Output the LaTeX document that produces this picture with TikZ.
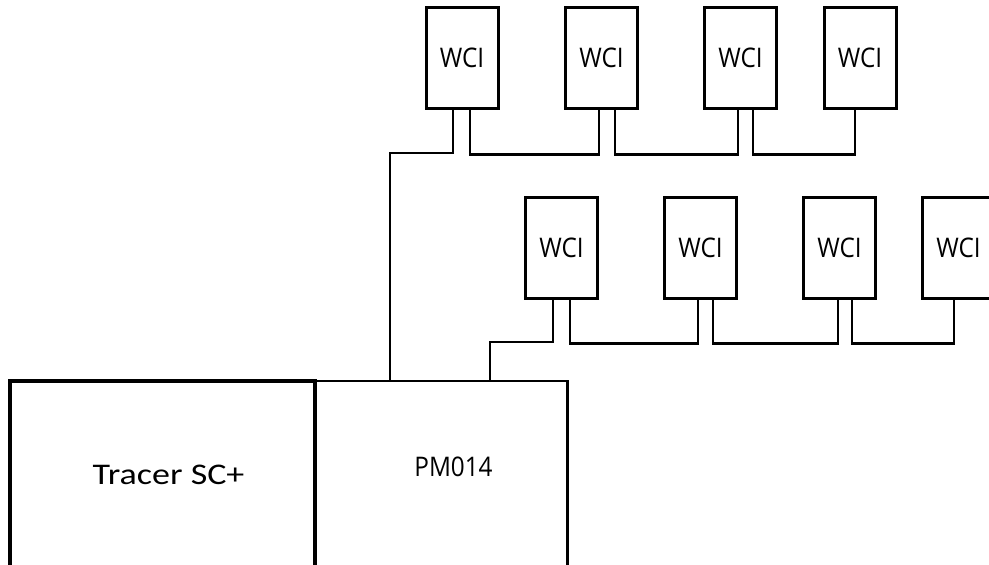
\documentclass[tikz,border=0pt]{standalone}
\usepackage{fontspec}
\setmainfont{Open Sans}
\newfontfamily\tracerfont{Carlito}

\begin{document}
\begin{tikzpicture}[x=1pt, y=-1pt,
    unitname/.style={font=\fontsize{27}{30}\selectfont},
    unit/.style={draw, line width=3pt, minimum width=72pt, minimum height=101pt, inner sep=0pt, unitname},
    wire/.style={line width=2.5pt}]
		      		\clip (0,0) rectangle (989,565);

		      		% bottom boxes
		      		\node[draw, line width=2.5pt, minimum width=252pt, minimum height=187pt] (pm) at (441.5,474.5) {};
		      		\node[draw, line width=3.7pt, minimum width=305.5pt, minimum height=187pt] (tracer) at (162.5,474.5) {};
		      		\node[font=\tracerfont\fontsize{30}{34}\selectfont] (tracerlabel) at (168.5,475) {\scalebox{1.2}[1]{Tracer SC+}};
		      		\node[unitname] (pmlabel) at (453.5,466.5) {\scalebox{0.9}[1]{PM014}};

		      		% top row
		      		\node[unit] (w1) at (462,57.5) {\scalebox{0.9}[1]{WCI}};
		      		\node[unit] (w2) at (601.5,57.5) {\scalebox{0.9}[1]{WCI}};
		      		\node[unit] (w3) at (740.5,57.5) {\scalebox{0.9}[1]{WCI}};
		      		\node[unit] (w4) at (860,57.5) {\scalebox{0.9}[1]{WCI}};

		      		% second row
		      		\node[unit] (v1) at (561.5,247.5) {\scalebox{0.9}[1]{WCI}};
		      		\node[unit] (v2) at (700.5,247.5) {\scalebox{0.9}[1]{WCI}};
		      		\node[unit] (v3) at (839.5,247.5) {\scalebox{0.9}[1]{WCI}};
		      		\node[unit] (v4) at (958.5,247.5) {\scalebox{0.9}[1]{WCI}};

		      		\coordinate (tapw) at (390,153);
		      		\coordinate (tapv) at (490,342);

		      		\draw[wire] ([xshift=-9pt]w1.south) |- (tapw) -- (tapw |- pm.north);
		      		\draw[wire] ([xshift=-8.5pt]v1.south) |- (tapv) -- (tapv |- pm.north);

		      		\foreach \a/\b/\sa/\sb in {w1/w2/8/-2.5, w2/w3/13.5/-2.5, w3/w4/12.5/-5}
		      			\draw[wire] ([xshift=\sa]\a.south) -- ++(0,45) -| ([xshift=\sb]\b.south);
		      		\foreach \a/\b/\sa/\sb in {v1/v2/8.5/-2.5, v2/v3/12.5/-1.5, v3/v4/12.5/-4.5}
		      			\draw[wire] ([xshift=\sa]\a.south) -- ++(0,44) -| ([xshift=\sb]\b.south);
		      	\end{tikzpicture}
\end{document}
